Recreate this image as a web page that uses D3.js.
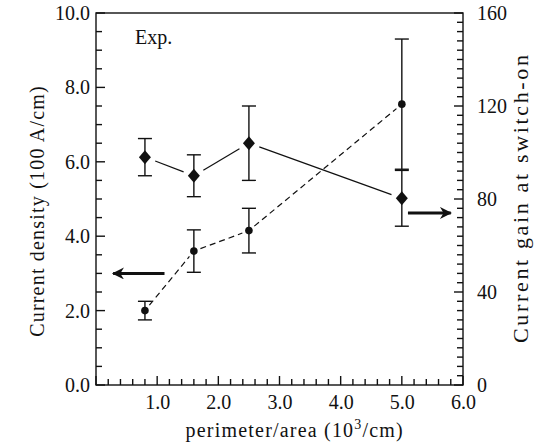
<!DOCTYPE html>
<html>
<head>
<meta charset="utf-8">
<script src="https://cdn.jsdelivr.net/npm/d3@7"></script>
<style>
  body { margin: 0; background: #fff; }
</style>
</head>
<body>
<div id="chart"></div>
<script>
// Data
const xVals = [0.8, 1.6, 2.5, 5.0];           // perimeter/area (10^3/cm)
const density = [2.0, 3.6, 4.15, 7.55];       // current density (100 A/cm), left axis
const densityErr = [0.25, 0.57, 0.6, 1.75];
const gain = [98, 90, 104, 80.3];             // current gain at switch-on, right axis
const gainErr = [8, 9, 16, 12];

const xTicks = [1, 2, 3, 4, 5, 6];
const yLeftTicks = [0, 2, 4, 6, 8, 10];
const yRightTicks = [0, 40, 80, 120, 160];

// arrows pointing to each series' axis
const arrows = [
    { from: 1.12, to: 0.28, value: 3.0, axis: "left" },
    { from: 5.1, to: 5.8, value: 74, axis: "right" }
];

const FONT = "'Liberation Serif', 'DejaVu Serif', serif";

const W = 538, H = 447;
const margin = { top: 13, right: 75, bottom: 62, left: 96 };
const width = W - margin.left - margin.right;
const height = H - margin.top - margin.bottom;

const x = d3.scaleLinear().domain([0, 6]).range([0, width]);
const yL = d3.scaleLinear().domain([0, 10]).range([height, 0]);
const yR = d3.scaleLinear().domain([0, 160]).range([height, 0]);

const svg = d3.select("#chart")
    .append("svg")
    .attr("width", W)
    .attr("height", H)
    .append("g")
    .attr("transform", `translate(${margin.left},${margin.top})`);

// Frame
svg.append("rect")
    .attr("width", width).attr("height", height)
    .attr("fill", "none")
    .attr("stroke", "#111").attr("stroke-width", 1.4);

function styleAxis(g) {
    g.select(".domain").remove();
    g.selectAll(".tick line").remove();
    g.selectAll("text")
        .attr("font-family", FONT)
        .style("font-family", FONT)
        .style("font-size", "20px")
        .attr("fill", "#111");
}

// Axis labels (ticks drawn separately, pointing inward)
svg.append("g")
    .attr("transform", `translate(0,${height})`)
    .call(d3.axisBottom(x).tickValues(xTicks).tickSize(0).tickPadding(10).tickFormat(d3.format(".1f")))
    .call(styleAxis);
svg.append("g")
    .call(d3.axisLeft(yL).tickValues(yLeftTicks).tickSize(0).tickPadding(6).tickFormat(d3.format(".1f")))
    .call(styleAxis);
svg.append("g")
    .attr("transform", `translate(${width},0)`)
    .call(d3.axisRight(yR).tickValues(yRightTicks).tickSize(0).tickPadding(14).tickFormat(d3.format("d")))
    .call(styleAxis);

// Inward tick marks
const xMinor = d3.range(0, 31).map(i => i * 0.2);
const yLMinor = d3.range(0, 21).map(i => i * 0.5);
const yRMinor = d3.range(0, 41).map(i => i * 4);
const isMajor = (v, step) => Math.abs(v / step - Math.round(v / step)) < 1e-6;

svg.selectAll("line.xtick")
    .data(xMinor)
    .join("line")
    .attr("class", "xtick")
    .attr("x1", d => x(d)).attr("x2", d => x(d))
    .attr("y1", height).attr("y2", d => height - (isMajor(d, 1) ? 9 : 6))
    .attr("stroke", "#111").attr("stroke-width", 1.4);

svg.selectAll("line.yltick")
    .data(yLMinor)
    .join("line")
    .attr("class", "yltick")
    .attr("x1", 0).attr("x2", d => isMajor(d, 2) ? 9 : 6)
    .attr("y1", d => yL(d)).attr("y2", d => yL(d))
    .attr("stroke", "#111").attr("stroke-width", 1.4);

svg.selectAll("line.yrtick")
    .data(yRMinor)
    .join("line")
    .attr("class", "yrtick")
    .attr("x1", width).attr("x2", d => width - (isMajor(d, 40) ? 9 : 6))
    .attr("y1", d => yR(d)).attr("y2", d => yR(d))
    .attr("stroke", "#111").attr("stroke-width", 1.4);

// Connecting segments, shortened near the markers
function drawSegments(ys, yScale, gap, dash) {
    for (let i = 0; i < xVals.length - 1; i++) {
        const x1 = x(xVals[i]), y1 = yScale(ys[i]);
        const x2 = x(xVals[i + 1]), y2 = yScale(ys[i + 1]);
        const len = Math.hypot(x2 - x1, y2 - y1);
        const ux = (x2 - x1) / len, uy = (y2 - y1) / len;
        svg.append("line")
            .attr("x1", x1 + ux * gap).attr("y1", y1 + uy * gap)
            .attr("x2", x2 - ux * gap).attr("y2", y2 - uy * gap)
            .attr("stroke", "#111")
            .attr("stroke-width", 1.2)
            .attr("stroke-dasharray", dash);
    }
}
drawSegments(density, yL, 7, "6,4");
drawSegments(gain, yR, 11, null);

// Error bars
function drawErrors(ys, errs, yScale) {
    const g = svg.append("g").attr("stroke", "#111").attr("stroke-width", 1.4);
    xVals.forEach((xv, i) => {
        const cx = x(xv);
        const top = yScale(ys[i] + errs[i]);
        const bot = yScale(ys[i] - errs[i]);
        g.append("line").attr("x1", cx).attr("x2", cx).attr("y1", top).attr("y2", bot);
        [top, bot].forEach(yy => {
            g.append("line").attr("x1", cx - 7).attr("x2", cx + 7).attr("y1", yy).attr("y2", yy);
        });
    });
}
drawErrors(density, densityErr, yL);
drawErrors(gain, gainErr, yR);

// Markers
svg.selectAll(".dot")
    .data(xVals)
    .enter()
    .append("circle")
    .attr("class", "dot")
    .attr("cx", d => x(d))
    .attr("cy", (d, i) => yL(density[i]))
    .attr("r", 3.8)
    .attr("fill", "#111");

svg.selectAll(".diamond")
    .data(xVals)
    .enter()
    .append("path")
    .attr("class", "diamond")
    .attr("transform", (d, i) => `translate(${x(d)},${yR(gain[i])})`)
    .attr("d", "M0,-7L6,0L0,7L-6,0Z")
    .attr("fill", "#111");

// Arrows
svg.append("defs").append("marker")
    .attr("id", "head")
    .attr("viewBox", "0 0 10 10")
    .attr("refX", 9).attr("refY", 5)
    .attr("markerWidth", 5.5).attr("markerHeight", 4)
    .attr("orient", "auto")
    .append("path")
    .attr("d", "M0,0L10,5L0,10L3,5Z")
    .attr("fill", "#111");

arrows.forEach(a => {
    const yy = a.axis === "left" ? yL(a.value) : yR(a.value);
    svg.append("line")
        .attr("x1", x(a.from)).attr("x2", x(a.to))
        .attr("y1", yy).attr("y2", yy)
        .attr("stroke", "#111")
        .attr("stroke-width", 3)
        .attr("marker-end", "url(#head)");
});

// Texts
function label(sel) {
    return sel.attr("font-family", FONT).style("font-family", FONT).attr("fill", "#111");
}

svg.append("text")
    .attr("x", 39).attr("y", 31)
    .style("font-size", "20px")
    .call(label)
    .text("Exp.");

svg.append("text")
    .attr("transform", `translate(${-margin.left + 44},${height / 2 + 12}) rotate(-90)`)
    .attr("text-anchor", "middle")
    .style("font-size", "20px")
    .style("letter-spacing", "1.2px")
    .call(label)
    .text("Current density (100 A/cm)");

svg.append("text")
    .attr("transform", `translate(${width + 65},${height / 2}) rotate(-90)`)
    .attr("text-anchor", "middle")
    .attr("textLength", 288)
    .attr("lengthAdjust", "spacing")
    .style("font-size", "22px")
    .call(label)
    .text("Current gain at switch-on");

const xt = svg.append("text")
    .attr("x", x(3.25))
    .attr("y", height + 52)
    .attr("text-anchor", "middle")
    .style("font-size", "20px")
    .style("letter-spacing", "1.2px")
    .call(label);
xt.append("tspan").text("perimeter/area (10");
xt.append("tspan").attr("dy", -8).style("font-size", "14px").text("3");
xt.append("tspan").attr("dy", 8).text("/cm)");
</script>
</body>
</html>
